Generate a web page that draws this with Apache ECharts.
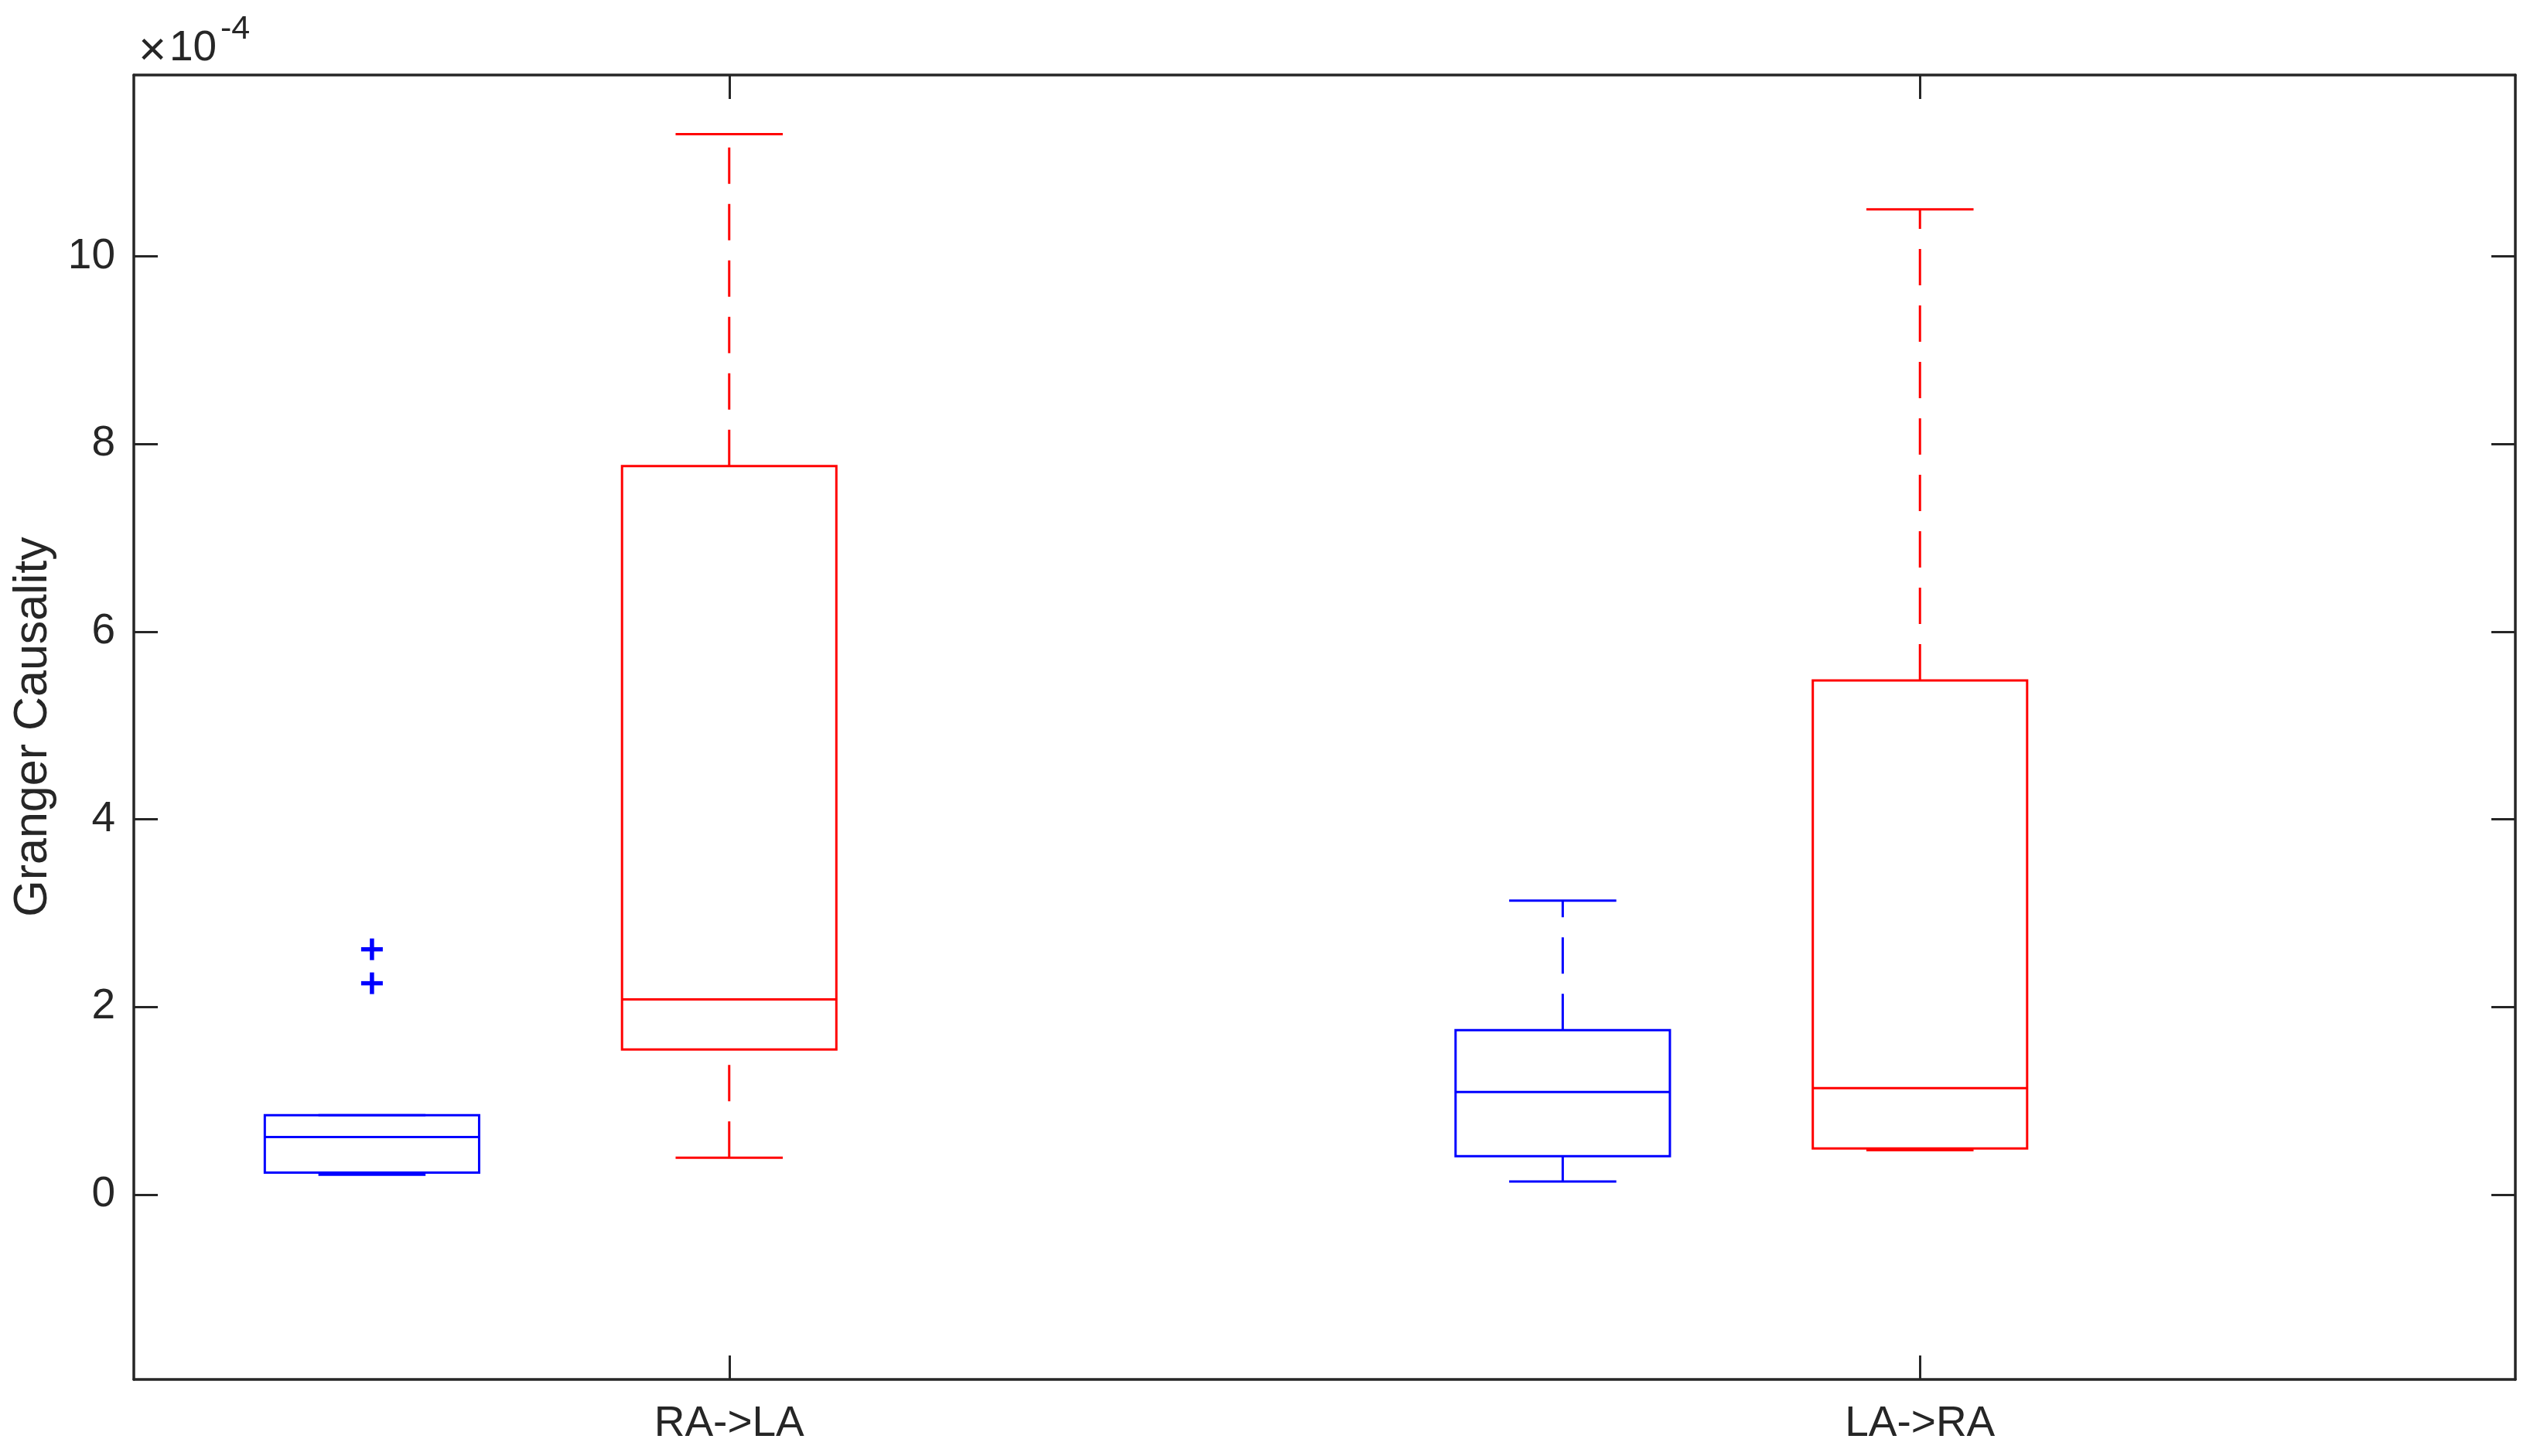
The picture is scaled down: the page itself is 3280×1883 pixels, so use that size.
<!DOCTYPE html>
<html>
<head>
<meta charset="utf-8">
<script src="https://cdn.jsdelivr.net/npm/echarts@6/dist/echarts.min.js"></script>
<style>
html,body{margin:0;padding:0;background:#fff;}
#chart{width:3280px;height:1883px;}
</style>
</head>
<body>
<div id="chart"></div>
<script>
// ---- data (values in units of 1e-4) ----
const categories = ['RA->LA', 'LA->RA'];
const yTickValues = [0, 2, 4, 6, 8, 10];
// each row: [lower whisker, Q1, median, Q3, upper whisker]
const blueStats = [
  [0.212, 0.233, 0.612, 0.846, 0.846],
  [0.138, 0.409, 1.093, 1.752, 3.133]
];
const redStats = [
  [0.393, 1.547, 2.079, 7.764, 11.302],
  [0.472, 0.492, 1.135, 5.479, 10.502]
];
// [category index, value]
const blueOutliers = [
  [0, 2.614],
  [0, 2.252]
];
const yMin = -1.971;
const yMax = 11.933;

// ---- layout / style constants ----
const AXIS_COLOR = '#262626';
const FONT = '"Liberation Sans", Arial, Helvetica, sans-serif';
const BLUE_OFFSET = -0.3;   // fraction of band width
const RED_OFFSET = 0;
const BOX_WIDTH = 0.18;     // fraction of band width
const LINE_W = 3;

function boxRenderer(color, offsetFrac) {
  return function (params, api) {
    const ci = api.value(0);
    const lo = api.value(1), q1 = api.value(2), md = api.value(3), q3 = api.value(4), hi = api.value(5);
    const band = api.size([1, 0])[0];
    const cx = api.coord([ci, 0])[0] + offsetFrac * band;
    const half = BOX_WIDTH * band / 2;
    const capHalf = half / 2;
    const y = v => api.coord([ci, v])[1];
    const ls = { stroke: color, lineWidth: LINE_W, fill: null, lineCap: 'butt' };
    const dash = Object.assign({}, ls, { lineDash: [47, 26] });
    return {
      type: 'group',
      children: [
        { type: 'line', shape: { x1: cx, y1: y(lo), x2: cx, y2: y(q1) }, style: dash },
        { type: 'line', shape: { x1: cx, y1: y(q3), x2: cx, y2: y(hi) }, style: dash },
        { type: 'line', shape: { x1: cx - capHalf, y1: y(lo), x2: cx + capHalf, y2: y(lo) }, style: ls },
        { type: 'line', shape: { x1: cx - capHalf, y1: y(hi), x2: cx + capHalf, y2: y(hi) }, style: ls },
        { type: 'rect', shape: { x: cx - half, y: y(q3), width: 2 * half, height: y(q1) - y(q3) }, style: Object.assign({}, ls, { lineJoin: 'miter' }) },
        { type: 'line', shape: { x1: cx - half, y1: y(md), x2: cx + half, y2: y(md) }, style: ls }
      ]
    };
  };
}

function plusRenderer(color, offsetFrac) {
  return function (params, api) {
    const ci = api.value(0);
    const v = api.value(1);
    const band = api.size([1, 0])[0];
    const p = api.coord([ci, v]);
    const cx = p[0] + offsetFrac * band, cy = p[1];
    const s = 14;
    const st = { stroke: color, lineWidth: 5.5, lineCap: 'butt' };
    return {
      type: 'group',
      children: [
        { type: 'line', shape: { x1: cx - s, y1: cy, x2: cx + s, y2: cy }, style: st },
        { type: 'line', shape: { x1: cx, y1: cy - s, x2: cx, y2: cy + s }, style: st }
      ]
    };
  };
}

const chart = echarts.init(document.getElementById('chart'), null, { renderer: 'canvas' });

const axisLineStyle = { color: AXIS_COLOR, width: 3.5 };
const tickStyle = { color: AXIS_COLOR, width: 3 };

chart.setOption({
  backgroundColor: '#ffffff',
  animation: false,
  grid: { left: 173, right: 28, top: 97, bottom: 99, containLabel: false },
  xAxis: [
    {
      type: 'category', data: categories, position: 'bottom', boundaryGap: true,
      axisLine: { show: true, onZero: false, lineStyle: axisLineStyle },
      axisTick: { show: true, inside: true, length: 31, alignWithLabel: true, lineStyle: tickStyle },
      axisLabel: { show: true, fontSize: 55, color: AXIS_COLOR, fontFamily: FONT, margin: 30 },
      splitLine: { show: false }
    },
    {
      type: 'category', data: categories, position: 'top', boundaryGap: true,
      axisLine: { show: true, onZero: false, lineStyle: axisLineStyle },
      axisTick: { show: true, inside: true, length: 31, alignWithLabel: true, lineStyle: tickStyle },
      axisLabel: { show: false },
      splitLine: { show: false }
    }
  ],
  yAxis: [
    {
      type: 'value', min: yMin, max: yMax, position: 'left',
      axisLine: { show: true, onZero: false, lineStyle: axisLineStyle },
      axisTick: { show: true, inside: true, length: 31, lineStyle: tickStyle, customValues: yTickValues },
      axisLabel: { show: true, fontSize: 55, color: AXIS_COLOR, fontFamily: FONT, margin: 24, customValues: yTickValues, formatter: v => String(v) },
      splitLine: { show: false }
    },
    {
      type: 'value', min: yMin, max: yMax, position: 'right',
      axisLine: { show: true, onZero: false, lineStyle: axisLineStyle },
      axisTick: { show: true, inside: true, length: 31, lineStyle: tickStyle, customValues: yTickValues },
      axisLabel: { show: false, customValues: yTickValues },
      splitLine: { show: false }
    }
  ],
  series: [
    {
      type: 'custom', name: 'blue', coordinateSystem: 'cartesian2d', xAxisIndex: 0, yAxisIndex: 0,
      renderItem: boxRenderer('#0000ff', BLUE_OFFSET),
      data: blueStats.map((s, i) => [i].concat(s)),
      encode: { x: 0, y: [1, 2, 3, 4, 5] }, z: 3
    },
    {
      type: 'custom', name: 'red', coordinateSystem: 'cartesian2d', xAxisIndex: 0, yAxisIndex: 0,
      renderItem: boxRenderer('#ff0000', RED_OFFSET),
      data: redStats.map((s, i) => [i].concat(s)),
      encode: { x: 0, y: [1, 2, 3, 4, 5] }, z: 3
    },
    {
      type: 'custom', name: 'blueOutliers', coordinateSystem: 'cartesian2d', xAxisIndex: 0, yAxisIndex: 0,
      renderItem: plusRenderer('#0000ff', BLUE_OFFSET),
      data: blueOutliers,
      encode: { x: 0, y: 1 }, z: 4
    }
  ],
  graphic: [
    {
      type: 'text', x: 197, y: 67,
      style: { text: '\u00d7', font: '62px ' + FONT, fill: AXIS_COLOR, align: 'center', verticalAlign: 'middle' }
    },
    {
      type: 'text', x: 219, y: 63,
      style: { text: '10', font: '55px ' + FONT, fill: AXIS_COLOR, align: 'left', verticalAlign: 'middle' }
    },
    {
      type: 'text', x: 285, y: 38,
      style: { text: '-4', font: '43px ' + FONT, fill: AXIS_COLOR, align: 'left', verticalAlign: 'middle' }
    },
    {
      type: 'text', x: 43, y: 940, rotation: Math.PI / 2,
      style: { text: 'Granger Causality', font: '61px ' + FONT, fill: AXIS_COLOR, align: 'center', verticalAlign: 'middle' }
    }
  ]
});
</script>
</body>
</html>
